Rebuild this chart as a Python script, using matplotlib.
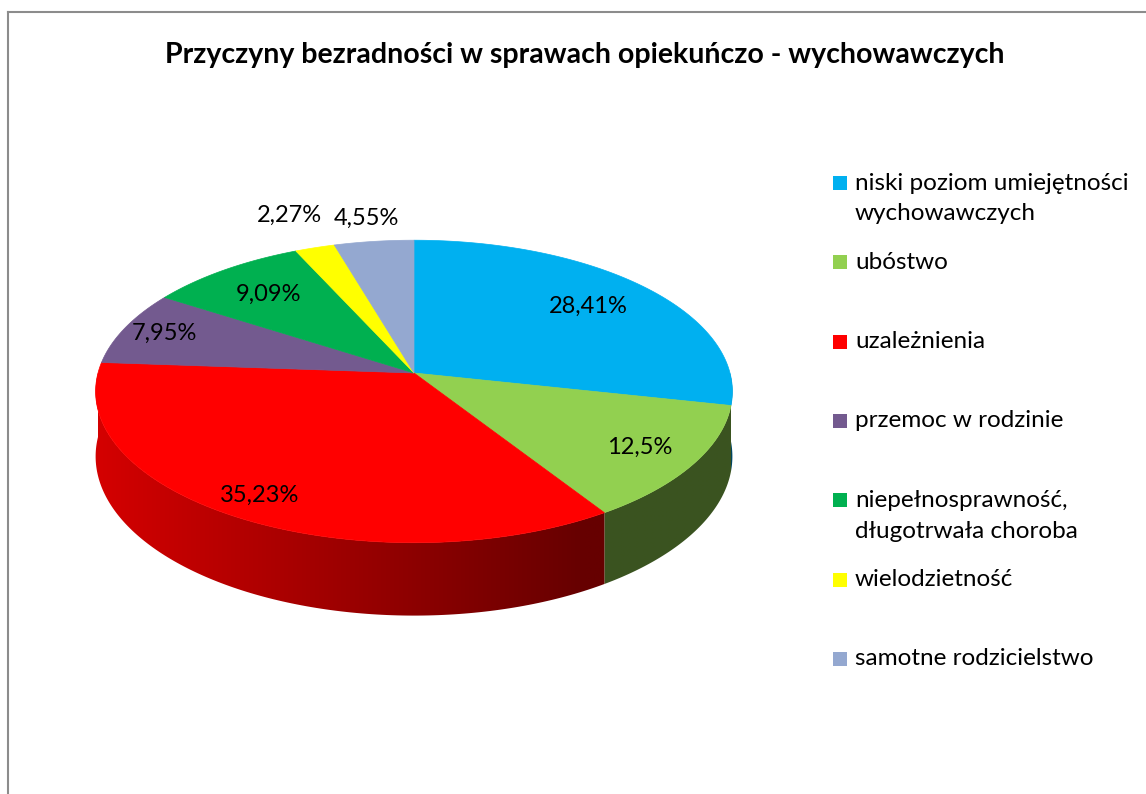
import numpy as np
import matplotlib
matplotlib.use("Agg")
import matplotlib.pyplot as plt
from matplotlib.patches import Polygon, Rectangle
from matplotlib.colors import to_rgb

title = "Przyczyny bezradności w sprawach opiekuńczo - wychowawczych"
categories = ["niski poziom umiejętności\nwychowawczych", "ubóstwo", "uzależnienia",
              "przemoc w rodzinie", "niepełnosprawność,\ndługotrwała choroba",
              "wielodzietność", "samotne rodzicielstwo"]
counts = [25, 11, 31, 7, 8, 2, 4]
colors = ["#00B0F0", "#92D050", "#FF0000", "#735A8F", "#00B050", "#FFFF00", "#94A8D0"]

# geometry of the 3d pie (pixels)
CX, CY = 414, 373
A, B = 316, 149
K = 0.122       # perspective
H = 64          # thickness
label_r = [0.75, 0.82, 0.87, 0.86, 0.75, 1.3, 1.2]

vals = np.array(counts, dtype=float)
frac = vals / vals.sum()
cum = np.concatenate([[0], np.cumsum(frac)])
pct_labels = [(f"{p * 100:.2f}".rstrip("0").rstrip(".") + "%").replace(".", ",") for p in frac]


def proj(u, v, drop=0.0):
    w = 1 + K * v
    return CX + A * u / w, CY - B * v / w + drop / w


plt.rcParams['font.family'] = ['Lato', 'DejaVu Sans']
fig = plt.figure(figsize=(11.46, 7.94), dpi=100)
ax = fig.add_axes([0, 0, 1, 1])
ax.axis("off")

# chart border
ax.plot([8, 1146], [12, 12], color="#8c8c8c", lw=1.5)
ax.plot([8, 8], [12, 794], color="#8c8c8c", lw=1.5)

ax.text(585, 55, title, ha="center", va="center", fontsize=20.5, fontweight="bold")

# shading of the side wall, left light -> right dark
gx = np.linspace(CX - A - 5, CX + A + 5, 400)
tt = (1 - np.clip((gx - CX) / A, -1, 1)) / 2
shade = np.clip(0.40 + 0.56 * (tt - 0.23), 0.40, 0.84)

# side wall (front half only)
for i in range(len(vals)):
    a0 = 90 - 360 * cum[i]
    a1 = 90 - 360 * cum[i + 1]
    for s, e in [(a1, a0), (a1 + 360, a0 + 360), (a1 - 360, a0 - 360)]:
        s2, e2 = max(s, 180), min(e, 360)
        if e2 <= s2:
            continue
        ang = np.radians(np.linspace(s2, e2, 150))
        top = [proj(np.cos(a), np.sin(a)) for a in ang]
        bot = [proj(np.cos(a), np.sin(a), H) for a in ang[::-1]]
        poly = Polygon(top + bot, closed=True, facecolor="none", edgecolor="none")
        ax.add_patch(poly)
        img = np.array(to_rgb(colors[i]))[None, None, :] * shade[None, :, None]
        im = ax.imshow(img, extent=(gx[0], gx[-1], CY + 260, CY - 20),
                       aspect="auto", interpolation="bilinear", zorder=1)
        im.set_clip_path(poly)

# top face
for i in range(len(vals)):
    a0 = 90 - 360 * cum[i]
    a1 = 90 - 360 * cum[i + 1]
    ang = np.radians(np.linspace(a0, a1, 200))
    pts = [proj(0, 0)] + [proj(np.cos(a), np.sin(a)) for a in ang]
    ax.add_patch(Polygon(pts, closed=True, facecolor=colors[i], edgecolor=colors[i],
                         lw=0.5, zorder=2))
    mid = np.radians((a0 + a1) / 2)
    lx, ly = proj(label_r[i] * np.cos(mid), label_r[i] * np.sin(mid))
    ax.text(lx, ly, pct_labels[i], ha="center", va="center", fontsize=17, zorder=3)

ax.set_xlim(0, 1146)
ax.set_ylim(794, 0)

# legend
leg_y0, leg_dy = 183, 79.3
for i, name in enumerate(categories):
    y = leg_y0 + i * leg_dy
    ax.add_patch(Rectangle((833, y - 7), 14, 14, facecolor=colors[i], edgecolor="none"))
    for k, ln in enumerate(name.split("\n")):
        ax.text(855, y + k * 31, ln, ha="left", va="center", fontsize=17.5)

fig.savefig("out.png", dpi=100)
